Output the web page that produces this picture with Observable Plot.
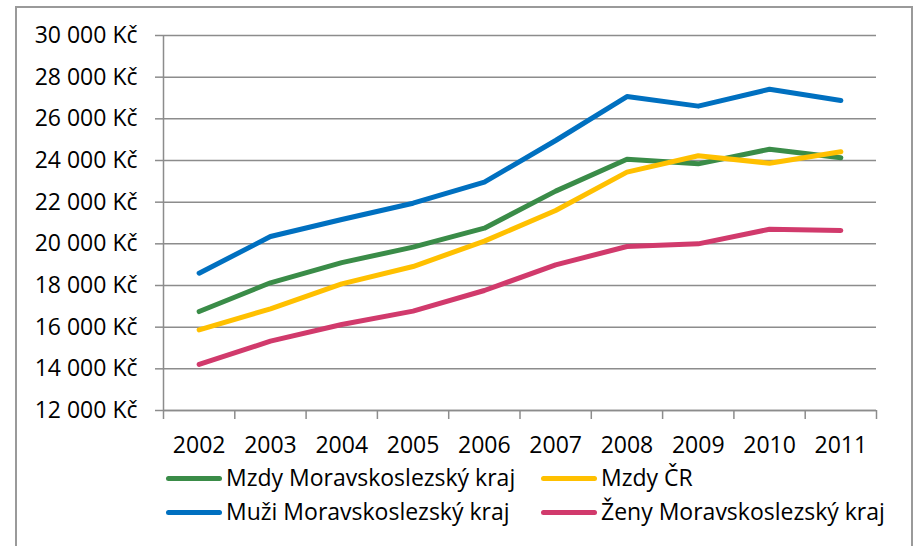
<!DOCTYPE html>
<html>
<head>
<meta charset="utf-8">
<script src="https://cdn.jsdelivr.net/npm/d3@7"></script>
<script src="https://cdn.jsdelivr.net/npm/@observablehq/plot@0.6"></script>
<style>
  html, body { margin: 0; padding: 0; background: #fff; overflow: hidden; }
  #wrap { position: relative; width: 919px; height: 546px; font-family: "Open Sans", sans-serif; }
  #frame { position: absolute; left: 15px; top: 6px; width: 898px; height: 600px; border: 2px solid #9a9a9a; box-sizing: border-box; }
  #chart { position: absolute; left: 0; top: 0; }
  .lg { position: absolute; font-size: 23px; color: #000; line-height: 1; white-space: nowrap; }
  .sw { position: absolute; height: 5px; border-radius: 3px; }
</style>
</head>
<body>
<div id="wrap">
  <div id="frame"></div>
  <div id="chart"></div>
  <div id="legend"></div>
</div>
<script>
const years = [2002, 2003, 2004, 2005, 2006, 2007, 2008, 2009, 2010, 2011];
const mzdyMSK = [16750, 18130, 19100, 19840, 20750, 22530, 24060, 23840, 24540, 24130];
const mzdyCR  = [15870, 16880, 18080, 18910, 20130, 21600, 23440, 24230, 23870, 24420];
const muziMSK = [18590, 20350, 21170, 21950, 22960, 24960, 27070, 26610, 27420, 26880];
const zenyMSK = [14210, 15330, 16130, 16770, 17760, 18990, 19870, 20000, 20700, 20640];
const seriesNames = ["Mzdy Moravskoslezský kraj", "Mzdy ČR", "Muži Moravskoslezský kraj", "Ženy Moravskoslezský kraj"];
const seriesColors = ["#3a8c48", "#ffc000", "#0070c0", "#d13a6c"];
const yTicks = [12000, 14000, 16000, 18000, 20000, 22000, 24000, 26000, 28000, 30000];

const seriesValues = [mzdyMSK, mzdyCR, muziMSK, zenyMSK];
const data = [];
seriesNames.forEach((name, i) => {
  years.forEach((yr, j) => data.push({series: name, year: yr, value: seriesValues[i][j]}));
});
const bounds = years.map(y => y - 0.5).concat([years[years.length - 1] + 0.5]);
const fmt = d => d3.format(",")(d).replace(/,/g, " ") + " Kč";

const plot = Plot.plot({
  width: 919,
  height: 546,
  marginLeft: 163,
  marginRight: 43,
  marginTop: 35,
  marginBottom: 136,
  style: { fontFamily: "Open Sans, sans-serif", fontSize: "23px", color: "#000", background: "transparent" },
  x: { type: "linear", domain: [bounds[0], bounds[bounds.length - 1]] },
  y: { domain: [12000, 30000] },
  color: { domain: seriesNames, range: seriesColors },
  marks: [
    Plot.gridY(yTicks, { stroke: "#8c8c8c", strokeOpacity: 1, strokeWidth: 1.5 }),
    Plot.axisY(yTicks, { tickSize: 8, tickPadding: 18, tickFormat: fmt, stroke: "#8c8c8c", strokeWidth: 1.5, fill: "#000", label: null }),
    Plot.ruleX([bounds[0]], { stroke: "#8c8c8c", strokeWidth: 1.5 }),
    Plot.ruleY([12000], { stroke: "#8c8c8c", strokeWidth: 1.5 }),
    Plot.axisX(bounds, { tickSize: 9, tickFormat: () => "", stroke: "#8c8c8c", strokeWidth: 1.5, label: null }),
    Plot.axisX(years, { tickSize: 0, tickPadding: 26, tickFormat: d => String(d), fill: "#000", label: null }),
    Plot.lineY(data, { x: "year", y: "value", z: "series", stroke: "series", strokeWidth: 5, strokeLinecap: "round", strokeLinejoin: "round" })
  ]
});
document.getElementById("chart").appendChild(plot);

// legend
const legend = document.getElementById("legend");
const pos = [
  { sx: 166, tx: 226, cy: 478 },
  { sx: 541, tx: 601, cy: 478 },
  { sx: 166, tx: 226, cy: 512 },
  { sx: 541, tx: 601, cy: 512 }
];
seriesNames.forEach((name, i) => {
  const p = pos[i];
  const sw = document.createElement("div");
  sw.className = "sw";
  sw.style.left = p.sx + "px";
  sw.style.width = "56px";
  sw.style.top = (p.cy - 2.5) + "px";
  sw.style.background = seriesColors[i];
  legend.appendChild(sw);
  const t = document.createElement("div");
  t.className = "lg";
  t.style.left = p.tx + "px";
  t.style.top = (p.cy - 12) + "px";
  t.textContent = name;
  legend.appendChild(t);
});
</script>
</body>
</html>
